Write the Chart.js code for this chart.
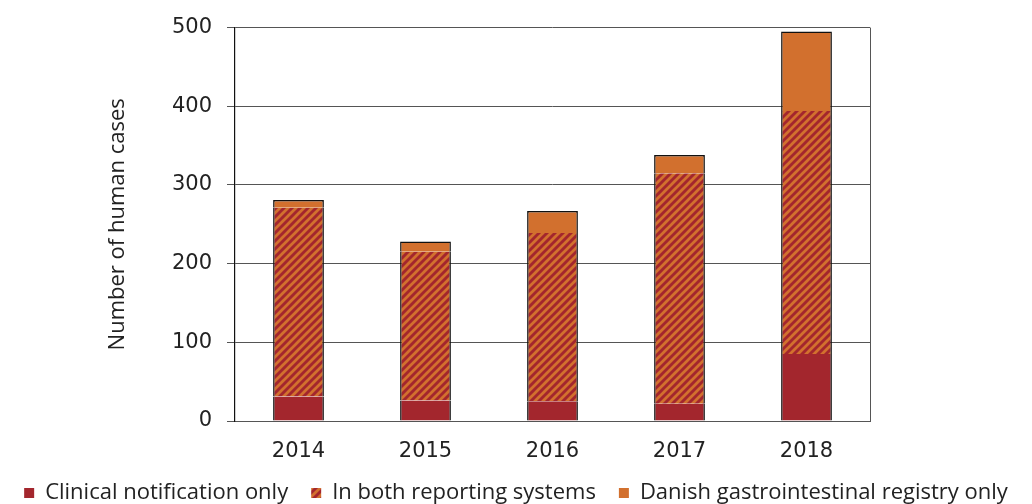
<!DOCTYPE html>
<html>
<head>
<meta charset="utf-8">
<script src="https://cdn.jsdelivr.net/npm/chart.js@4/dist/chart.umd.min.js"></script>
<style>
  html, body { margin: 0; padding: 0; background: #fff; }
  #wrap { width: 1032px; height: 504px; }
</style>
</head>
<body>
<div id="wrap"><canvas id="humanCasesChart" width="1032" height="504"></canvas></div>
<script>
// Data
const years = ['2014', '2015', '2016', '2017', '2018'];
const clinicalOnly = [31, 26, 25, 22, 85];
const bothSystems = [240, 189, 214, 293, 309];
const registryOnly = [10, 13, 28, 23, 101];
const yTicks = [0, 100, 200, 300, 400, 500];

const RED = '#a3262d';
const ORANGE = '#d2702e';

// diagonal stripe pattern for "in both" series
const makeHatch = () => {
  const c = document.createElement('canvas');
  c.width = 8;
  c.height = 8;
  const g = c.getContext('2d');
  g.fillStyle = RED;
  g.fillRect(0, 0, 8, 8);
  g.strokeStyle = ORANGE;
  g.lineWidth = 2.8;
  g.beginPath();
  g.moveTo(-2, 10); g.lineTo(10, -2);
  g.moveTo(-6, 6); g.lineTo(6, -6);
  g.moveTo(2, 14); g.lineTo(14, 2);
  g.stroke();
  return g.createPattern(c, 'repeat');
};
const hatch = makeHatch();

// right edge of the plot box
const frame = {
  id: 'frame',
  afterDatasetsDraw(chart) {
    const { ctx, chartArea } = chart;
    ctx.save();
    ctx.strokeStyle = '#555';
    ctx.lineWidth = 1;
    ctx.beginPath();
    ctx.moveTo(Math.round(chartArea.right) + 0.5, chartArea.top);
    ctx.lineTo(Math.round(chartArea.right) + 0.5, chartArea.bottom);
    ctx.stroke();
    ctx.restore();
  },
};

const ctx = document.getElementById('humanCasesChart').getContext('2d');
new Chart(ctx, {
  type: 'bar',
  data: {
    labels: years,
    datasets: [
      {
        label: 'Clinical notification only',
        data: clinicalOnly,
        backgroundColor: RED,
        borderColor: '#111',
        borderWidth: { left: 1.5, right: 1.5, top: 0, bottom: 0 },
        borderSkipped: false,
      },
      {
        label: 'In both reporting systems',
        data: bothSystems,
        backgroundColor: hatch,
        borderColor: '#111',
        borderWidth: { left: 1.5, right: 1.5, top: 0, bottom: 0 },
        borderSkipped: false,
      },
      {
        label: 'Danish gastrointestinal registry only',
        data: registryOnly,
        backgroundColor: ORANGE,
        borderColor: '#111',
        borderWidth: { left: 1.5, right: 1.5, top: 1.5, bottom: 0 },
        borderSkipped: false,
      },
    ],
  },
  options: {
    responsive: false,
    animation: false,
    layout: { padding: { left: 0, right: 0, top: 16, bottom: -10 } },
    datasets: { bar: { barPercentage: 0.4, categoryPercentage: 1 } },
    plugins: {
      tooltip: { enabled: false },
      legend: {
        position: 'bottom',
        labels: {
          boxWidth: 10,
          boxHeight: 10,
          padding: 23,
          color: '#222',
          font: { family: "'Open Sans', sans-serif", size: 22 },
          generateLabels(chart) {
            return Chart.defaults.plugins.legend.labels.generateLabels(chart)
              .map((item) => ({ ...item, lineWidth: 0, strokeStyle: 'transparent' }));
          },
        },
      },
    },
    scales: {
      x: {
        stacked: true,
        grid: { display: false },
        border: { display: true, color: '#555', width: 1 },
        ticks: {
          color: '#222',
          padding: 10,
          font: { family: "'DejaVu Sans', sans-serif", size: 21 },
        },
        afterFit(scale) { scale.height = 38; },
      },
      y: {
        stacked: true,
        min: 0,
        max: 500,
        afterBuildTicks(scale) { scale.ticks = yTicks.map((v) => ({ value: v })); },
        grid: { color: '#555', lineWidth: 1, tickLength: 8, drawTicks: true },
        border: { display: true, color: '#111', width: 1.2 },
        ticks: {
          color: '#222',
          padding: 15,
          font: { family: "'DejaVu Sans', sans-serif", size: 21 },
        },
        title: {
          display: true,
          text: 'Number of human cases',
          color: '#222',
          padding: { top: 105, bottom: 0 },
          font: { family: "'Open Sans', sans-serif", size: 22 },
        },
        afterFit(scale) { scale.width = 235; },
      },
      // empty right-hand axis, only reserves the white margin
      yRight: {
        position: 'right',
        grid: { display: false },
        border: { display: false },
        ticks: { display: false },
        afterFit(scale) { scale.width = 162; },
      },
    },
  },
  plugins: [frame],
});
</script>
</body>
</html>
